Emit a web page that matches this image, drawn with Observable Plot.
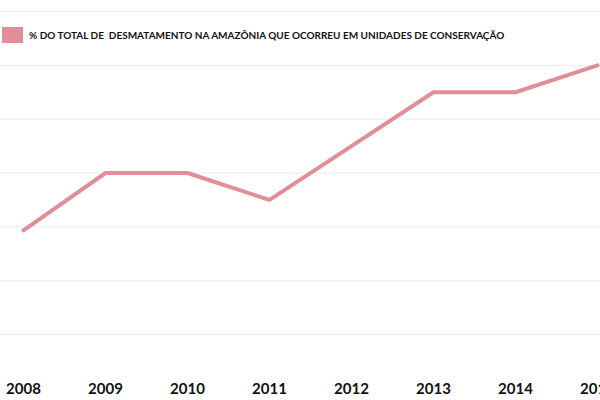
<!DOCTYPE html>
<html>
<head>
<meta charset="utf-8">
<script src="https://cdn.jsdelivr.net/npm/d3@7"></script>
<script src="https://cdn.jsdelivr.net/npm/@observablehq/plot@0.6"></script>
<style>
  html, body { margin: 0; padding: 0; background: #fff; }
  #wrap { position: relative; width: 600px; height: 400px; overflow: hidden; }
  #legend { position: absolute; left: 2px; top: 27px; display: flex; align-items: center;
    font-family: Lato, "Open Sans", sans-serif; font-weight: 700; font-size: 10px; color: #111; white-space: pre; }
  #legend .sw { width: 21px; height: 16px; margin-right: 6px; }
  svg { display: block; }
</style>
</head>
<body>
<div id="wrap">
  <div id="legend"></div>
</div>
<script>
const years = [2008, 2009, 2010, 2011, 2012, 2013, 2014, 2015];
const values = [3.87, 6, 6, 5, 7, 9, 9, 10];
const gridTicks = [0, 2, 4, 6, 8, 10, 12];
const seriesLabel = "% DO TOTAL DE  DESMATAMENTO NA AMAZÔNIA QUE OCORREU EM UNIDADES DE CONSERVAÇÃO";
const lineColor = "#e08e97";

const data = years.map((y, i) => ({year: y, value: values[i]}));

const chart = Plot.plot({
  width: 600,
  height: 400,
  marginLeft: 0,
  marginRight: 0,
  marginTop: 11,
  marginBottom: 66,
  style: {fontFamily: "Lato, 'Open Sans', sans-serif", background: "#fff"},
  x: {type: "point", domain: years, insetLeft: 20, padding: 0, label: null},
  y: {domain: [0, 12], axis: null, label: null},
  marks: [
    Plot.gridY(gridTicks, {stroke: "#ececec", strokeOpacity: 1}),
    Plot.axisX({tickSize: 0, tickPadding: 49, fontSize: 15, fontWeight: 700, fill: "#111", label: null, tickFormat: d => String(d)}),
    Plot.line(data, {x: "year", y: "value", stroke: lineColor, strokeWidth: 4})
  ]
});
document.getElementById("wrap").prepend(chart);

const lg = document.getElementById("legend");
const sw = document.createElement("div");
sw.className = "sw";
sw.style.background = lineColor;
const tx = document.createElement("span");
tx.textContent = seriesLabel;
lg.append(sw, tx);
</script>
</body>
</html>
